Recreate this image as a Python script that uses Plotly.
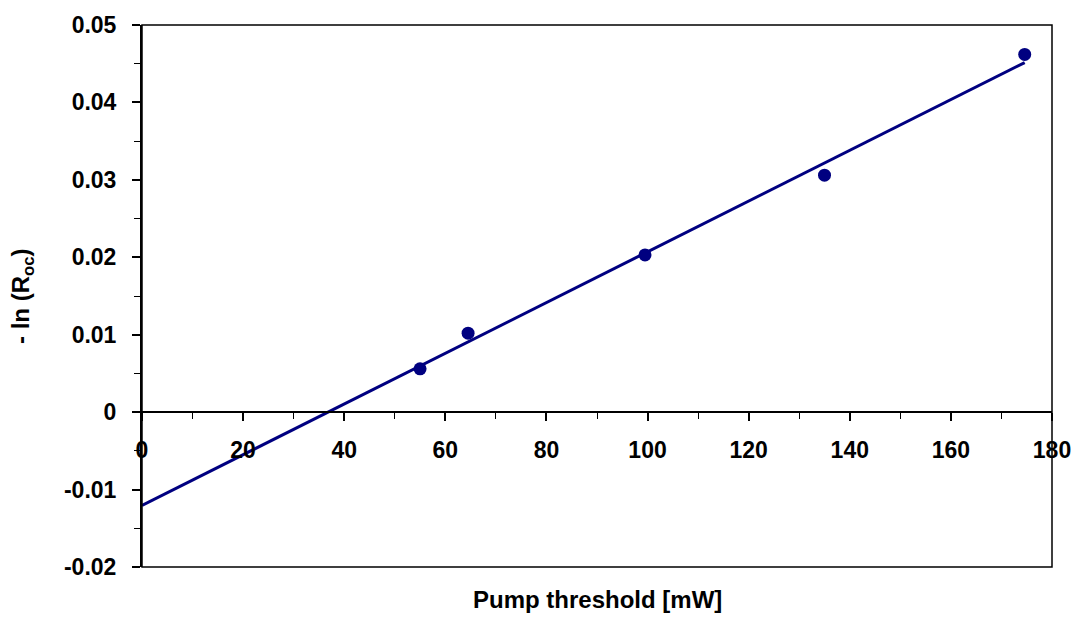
import numpy as np
import plotly.graph_objects as go

# Data
pump_threshold = [55.0, 64.5, 99.5, 135.0, 174.6]          # mW
neg_ln_roc = [0.0056, 0.0102, 0.0203, 0.0306, 0.0462]

x_tick_vals = [0, 20, 40, 60, 80, 100, 120, 140, 160, 180]
x_tick_text = ["0", "20", "40", "60", "80", "100", "120", "140", "160", "180"]
x_minor_vals = [10, 30, 50, 70, 90, 110, 130, 150, 170]
y_tick_vals = [-0.02, -0.01, 0, 0.01, 0.02, 0.03, 0.04, 0.05]
y_tick_text = ["-0.02", "-0.01", "0", "0.01", "0.02", "0.03", "0.04", "0.05"]

x_range = [0, 180]
y_range = [-0.02, 0.05]

# Linear trend line (least squares), drawn from 0 to the last point
slope, intercept = np.polyfit(pump_threshold, neg_ln_roc, 1)
fit_x = np.array([0.0, max(pump_threshold)])
fit_y = slope * fit_x + intercept

NAVY = "#000080"
FONT = "Liberation Sans, Arial, sans-serif"

fig = go.Figure()
fig.add_trace(go.Scatter(x=fit_x, y=fit_y, mode="lines",
                         line=dict(color=NAVY, width=3), showlegend=False))
fig.add_trace(go.Scatter(x=pump_threshold, y=neg_ln_roc, mode="markers",
                         marker=dict(color=NAVY, size=13), showlegend=False))

zero_pos = (0 - y_range[0]) / (y_range[1] - y_range[0])

fig.update_layout(
    width=1083, height=634,
    margin=dict(l=142, r=31, t=19.5, b=66.5),
    paper_bgcolor="white", plot_bgcolor="white",
    font=dict(family=FONT, size=23, color="black"),
    xaxis=dict(range=x_range, tickvals=x_tick_vals, ticktext=x_tick_text,
               anchor="free", position=zero_pos,
               showline=True, linecolor="black", linewidth=1.5,
               ticks="outside", ticklen=8, tickwidth=1.5, tickcolor="black",
               minor=dict(tickvals=x_minor_vals,
                          ticks="outside", ticklen=6, tickwidth=1, tickcolor="black"),
               showgrid=False, zeroline=False,
               tickfont=dict(family=FONT, size=23, color="black", weight="bold"),
               ticklabelstandoff=10),
    yaxis=dict(range=y_range, tickvals=y_tick_vals, ticktext=y_tick_text,
               showline=True, linecolor="black", linewidth=2,
               ticks="outside", ticklen=8, tickwidth=1.5, tickcolor="black",
               minor=dict(dtick=0.005, ticks="outside", ticklen=6, tickwidth=1,
                          tickcolor="black"),
               showgrid=False, zeroline=False,
               tickfont=dict(family=FONT, size=23, color="black", weight="bold"),
               ticklabelstandoff=11),
    shapes=[dict(type="rect", xref="x domain", yref="y domain",
                 x0=0, x1=1, y0=0, y1=1, line=dict(color="black", width=1.5),
                 layer="above")],
    annotations=[
        dict(text="<b>Pump threshold [mW]</b>", xref="x domain", yref="y domain",
             x=0.5, y=0, xanchor="center", yanchor="middle",
             yshift=-(600 - 567.5), showarrow=False,
             font=dict(family=FONT, size=24, color="black")),
        dict(text="<b>- ln (R<sub>oc</sub>)</b>", xref="x domain", yref="y domain",
             x=0, y=0.5, xanchor="center", yanchor="middle", textangle=-90,
             xshift=-(142 - 22), showarrow=False,
             font=dict(family=FONT, size=24, color="black")),
    ],
)

fig.write_html("out.html")
